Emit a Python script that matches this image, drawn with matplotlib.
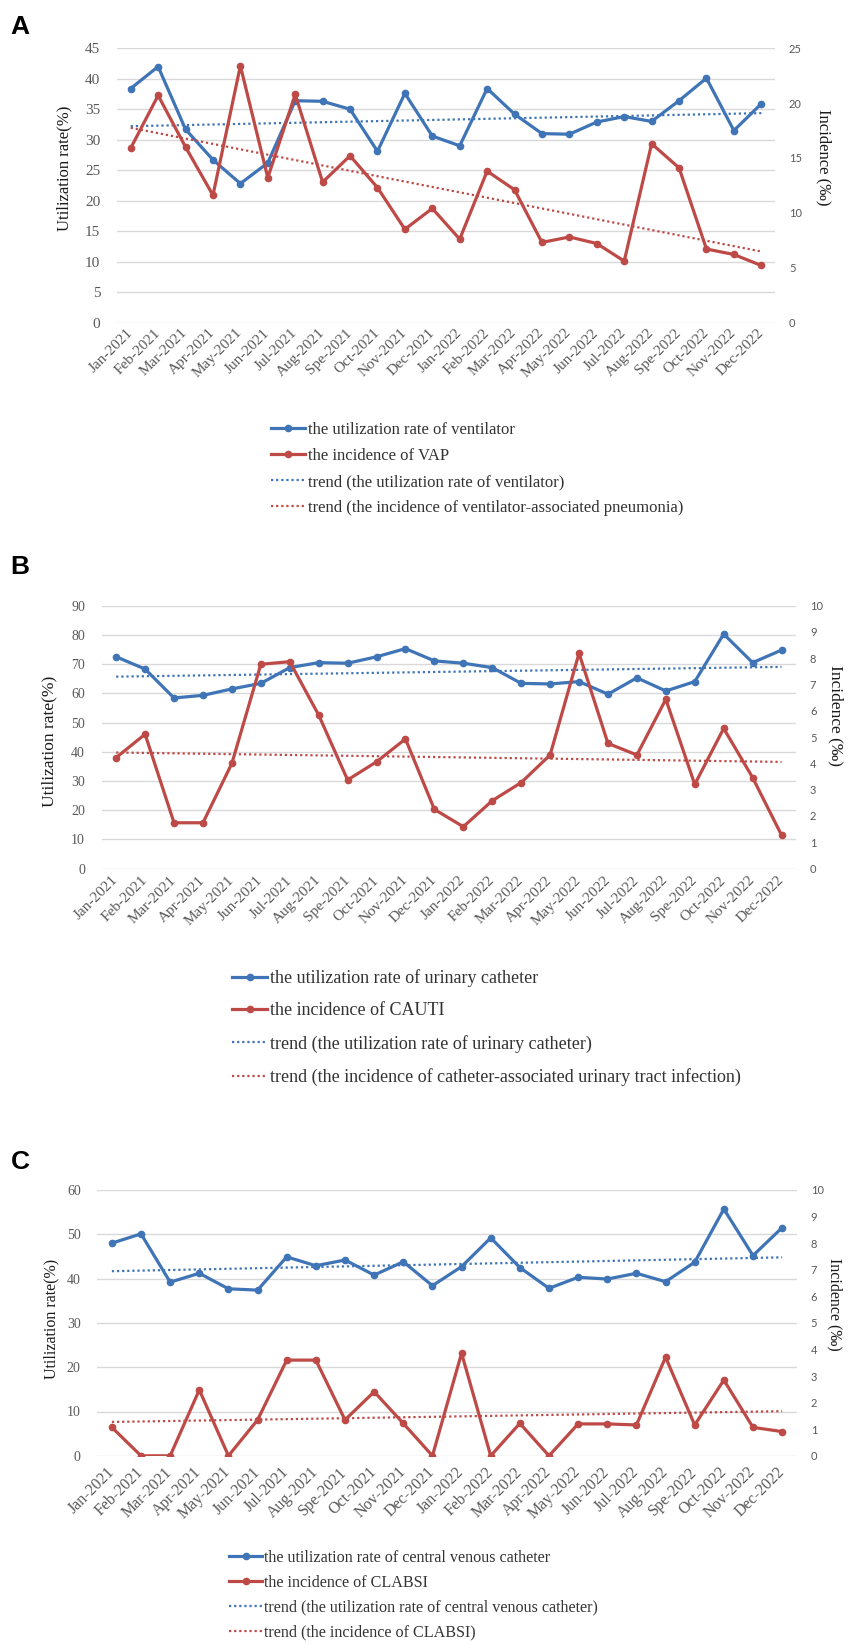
import numpy as np
import matplotlib
matplotlib.use("Agg")
import matplotlib.pyplot as plt
from matplotlib.font_manager import FontProperties

# ---------------- data ----------------
months = ['Jan-2021', 'Feb-2021', 'Mar-2021', 'Apr-2021', 'May-2021', 'Jun-2021',
          'Jul-2021', 'Aug-2021', 'Spe-2021', 'Oct-2021', 'Nov-2021', 'Dec-2021',
          'Jan-2022', 'Feb-2022', 'Mar-2022', 'Apr-2022', 'May-2022', 'Jun-2022',
          'Jul-2022', 'Aug-2022', 'Spe-2022', 'Oct-2022', 'Nov-2022', 'Dec-2022']

# Panel A
ventilator_util = [38.4, 42.0, 31.7, 26.7, 22.8, 26.2, 36.4, 36.3, 35.0, 28.1, 37.6, 30.6,
                   29.0, 38.4, 34.2, 31.0, 30.9, 32.9, 33.8, 33.0, 36.4, 40.1, 31.5, 35.9]
vap_incidence = [15.9, 20.7, 16.0, 11.6, 23.4, 13.2, 20.8, 12.8, 15.2, 12.3, 8.5, 10.4,
                 7.6, 13.8, 12.1, 7.3, 7.8, 7.2, 5.6, 16.3, 14.1, 6.7, 6.2, 5.2]

# Panel B
urinary_util = [72.5, 68.3, 58.4, 59.3, 61.5, 63.4, 68.8, 70.5, 70.3, 72.5, 75.3, 71.1,
                70.3, 68.8, 63.4, 63.2, 64.0, 59.7, 65.3, 60.8, 64.0, 80.3, 70.5, 74.8]
cauti_incidence = [4.22, 5.11, 1.74, 1.74, 4.00, 7.77, 7.87, 5.84, 3.37, 4.06, 4.93, 2.25,
                   1.59, 2.58, 3.27, 4.32, 8.19, 4.76, 4.32, 6.44, 3.20, 5.33, 3.46, 1.27]

# Panel C
cvc_util = [48.0, 50.1, 39.2, 41.2, 37.7, 37.4, 44.9, 42.9, 44.2, 40.8, 43.8, 38.4,
            42.7, 49.2, 42.5, 37.8, 40.3, 39.9, 41.2, 39.3, 43.7, 55.7, 45.2, 51.5]
clabsi_incidence = [1.07, 0.0, 0.0, 2.48, 0.0, 1.35, 3.60, 3.60, 1.35, 2.41, 1.22, 0.0,
                    3.86, 0.0, 1.22, 0.0, 1.20, 1.20, 1.16, 3.71, 1.16, 2.85, 1.07, 0.91]

left_ticks_A = [0, 5, 10, 15, 20, 25, 30, 35, 40, 45]
right_ticks_A = [0, 5, 10, 15, 20, 25]
left_ticks_B = [0, 10, 20, 30, 40, 50, 60, 70, 80, 90]
right_ticks_B = [0, 1, 2, 3, 4, 5, 6, 7, 8, 9, 10]
left_ticks_C = [0, 10, 20, 30, 40, 50, 60]
right_ticks_C = [0, 1, 2, 3, 4, 5, 6, 7, 8, 9, 10]

legend_A = ['the utilization rate of ventilator', 'the incidence of VAP',
            'trend (the utilization rate of ventilator)',
            'trend (the incidence of ventilator-associated pneumonia)']
legend_B = ['the utilization rate of urinary catheter', 'the incidence of CAUTI',
            'trend (the utilization rate of urinary catheter)',
            'trend (the incidence of catheter-associated urinary tract infection)']
legend_C = ['the utilization rate of central venous catheter', 'the incidence of CLABSI',
            'trend (the utilization rate of central venous catheter)',
            'trend (the incidence of CLABSI)']

# ---------------- style ----------------
W, H = 851, 1646
BLUE = '#3F74B6'
RED = '#BE4A47'
GRID = '#D9D9D9'
TICKC = '#595959'
SERIF = 'Liberation Serif'
SANS = 'Lato'

fig = plt.figure(figsize=(W / 100, H / 100), dpi=100)


def fx(px):
    return px / W


def fy(py):
    return 1 - py / H


def panel(letter, letter_xy, box, left_vals, right_vals, lt, rt, rmax, lmax,
          labels, leg_xy, leg_size, leg_spacing, leg_hlen, ltick_size, mtick_size,
          ylab_xy, ylab_size, rlab_xy, rlab_size, mpad):
    l, r, t, b = box
    ax = fig.add_axes([fx(l), fy(b), fx(r - l), (b - t) / H])
    ax2 = ax.twinx()
    x = np.arange(len(months))

    ax.set_ylim(0, lmax)
    ax.set_yticks(lt)
    ax.yaxis.grid(True, color=GRID, lw=1.0)
    ax.set_axisbelow(True)
    ax2.set_ylim(0, rmax)
    ax2.set_yticks(rt)
    ax.set_xlim(-0.5, len(months) - 0.5)

    for a in (ax, ax2):
        for s in a.spines.values():
            s.set_visible(False)
        a.tick_params(length=0)

    h1, = ax.plot(x, left_vals, color=BLUE, lw=2.3, marker='o', ms=4.5, zorder=3)
    h2, = ax2.plot(x, right_vals, color=RED, lw=2.3, marker='o', ms=4.5, zorder=3)
    c1 = np.polyfit(x, left_vals, 1)
    c2 = np.polyfit(x, right_vals, 1)
    h3, = ax.plot(x, np.polyval(c1, x), color=BLUE, lw=1.6, ls=(0, (1, 1.3)), zorder=2)
    h4, = ax2.plot(x, np.polyval(c2, x), color=RED, lw=1.6, ls=(0, (1, 1.3)), zorder=2)

    ax.set_xticks(x)
    ax.set_xticklabels(months, rotation=45, ha='right', va='center',
                       rotation_mode='anchor', fontfamily=SERIF,
                       fontsize=mtick_size, color=TICKC)
    ax.tick_params(axis='x', pad=mpad)
    for lab in ax.get_yticklabels():
        lab.set_fontfamily(SERIF)
        lab.set_fontsize(ltick_size)
        lab.set_color(TICKC)
    ax.tick_params(axis='y', pad=12)
    for lab in ax2.get_yticklabels():
        lab.set_fontfamily(SANS)
        lab.set_fontsize(8)
        lab.set_color(TICKC)
    ax2.tick_params(axis='y', pad=10)

    fig.text(fx(ylab_xy[0]), fy(ylab_xy[1]), 'Utilization rate(%)', rotation=90,
             ha='center', va='center', fontfamily=SERIF, fontsize=ylab_size,
             color='#1a1a1a')
    fig.text(fx(rlab_xy[0]), fy(rlab_xy[1]), 'Incidence (‰)', rotation=-90,
             ha='center', va='center', fontfamily=[SERIF, 'DejaVu Serif'],
             fontsize=rlab_size, color='#1a1a1a')

    fig.text(fx(letter_xy[0]), fy(letter_xy[1]), letter, ha='center', va='center',
             fontfamily='Liberation Sans', fontweight='bold', fontsize=19)

    fig.legend([h1, h2, h3, h4], labels, loc='upper left',
               bbox_to_anchor=(fx(leg_xy[0]), fy(leg_xy[1])),
               frameon=False, borderpad=0, borderaxespad=0,
               handlelength=leg_hlen, handletextpad=0.15, labelspacing=leg_spacing,
               prop=FontProperties(family=SERIF, size=leg_size),
               labelcolor='#333333')
    return ax, ax2


# Panel A
panel('A', (20, 27), (117, 775, 48.3, 322.5), ventilator_util, vap_incidence,
      left_ticks_A, right_ticks_A, 25, 45, legend_A,
      leg_xy=(271, 422), leg_size=12, leg_spacing=0.6, leg_hlen=2.05,
      ltick_size=11, mtick_size=11, ylab_xy=(64.5, 168), ylab_size=12,
      rlab_xy=(824, 157), rlab_size=12, mpad=6)

# Panel B
panel('B', (20, 567), (101.7, 796, 605.7, 868.5), urinary_util, cauti_incidence,
      left_ticks_B, right_ticks_B, 10, 90, legend_B,
      leg_xy=(232, 969), leg_size=13, leg_spacing=0.86, leg_hlen=1.95,
      ltick_size=10, mtick_size=11, ylab_xy=(49.5, 741), ylab_size=12.5,
      rlab_xy=(836, 715), rlab_size=12.5, mpad=7)

# Panel C
panel('C', (20, 1162), (97.3, 796.7, 1190, 1455.8), cvc_util, clabsi_incidence,
      left_ticks_C, right_ticks_C, 10, 60, legend_C,
      leg_xy=(229, 1550), leg_size=11.6, leg_spacing=0.55, leg_hlen=2.05,
      ltick_size=10, mtick_size=11.5, ylab_xy=(51.5, 1319), ylab_size=11.5,
      rlab_xy=(835, 1304), rlab_size=11.5, mpad=10)

fig.savefig('out.png', dpi=100)
